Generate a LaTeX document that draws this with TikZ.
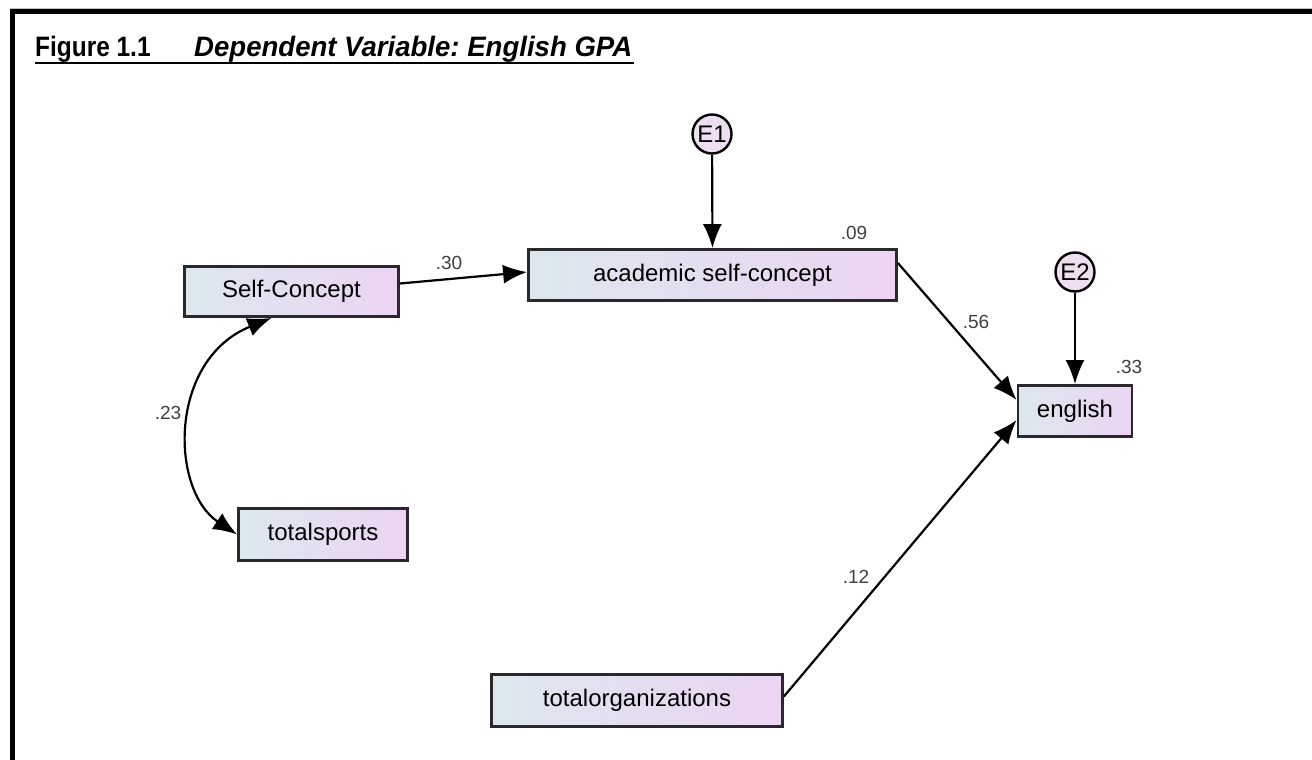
\documentclass[tikz,border=0pt]{standalone}
\usepackage{fontspec}
\setmainfont{Liberation Sans}
\usetikzlibrary{arrows.meta,calc,shadings}
\definecolor{boxL}{RGB}{220,232,238}
\definecolor{boxR}{RGB}{236,212,242}
\definecolor{errfill}{RGB}{238,222,242}
\definecolor{edge}{RGB}{40,40,45}
\frenchspacing
\begin{document}
\begin{tikzpicture}[x=1pt,y=-1pt,
  varbox/.style={draw=edge, line width=2.8pt, left color=boxL, right color=boxR,
    inner sep=0pt, font=\fontsize{24}{28}\selectfont},
  errc/.style={circle, draw=black, line width=2.4pt, fill=errfill,
    minimum size=39pt, inner sep=0pt, font=\fontsize{24}{24}\selectfont},
  conn/.style={line width=2.2pt, -{Latex[length=24pt,width=19pt]}},
  dconn/.style={line width=2.2pt, {Latex[length=24pt,width=19pt]}-{Latex[length=24pt,width=19pt]}},
  coef/.style={font=\fontsize{19}{22}\selectfont, text=black!75},
  ttl/.style={anchor=base west, inner sep=0pt}
]
\useasboundingbox (0,0) rectangle (1312,760);
\fill[white] (0,0) rectangle (1312,760);
% frame
\draw[gray!50, line width=1pt] (10,8.5) -- (1312,8.5);
\draw[line width=5pt] (12.5,760) -- (12.5,11.5) -- (1312,11.5);
% title
\node[ttl] (fig) at (35,57) {\fontsize{26}{28}\selectfont\bfseries\scalebox{0.94}[1.08]{Figure 1.1}};
\node[ttl] (dv) at (194,57) {\fontsize{26}{28}\selectfont\bfseries\itshape\scalebox{1.06}[1.08]{Dependent Variable: English GPA}};
\draw[line width=2.8pt] ($(fig.base west)+(0,6)$) -- ($(dv.base east)+(2,6)$);
% variables
\node[varbox, minimum width=214pt, minimum height=50pt] (sc) at (291.5,291.5) {Self-Concept};
\node[varbox, minimum width=368pt, minimum height=51pt] (acad) at (712.5,275) {academic self-concept};
\node[varbox, minimum width=114pt, minimum height=51pt] (eng) at (1075,411) {english};
\node[varbox, minimum width=169pt, minimum height=52pt] (ts) at (323,534.5) {totalsports};
\node[varbox, minimum width=291pt, minimum height=52pt] (org) at (637,700.5) {totalorganizations};
\node[errc] (e1) at (712,134) {E1};
\node[errc] (e2) at (1075,272) {E2};
% paths
\draw[conn] (e1) -- (acad.north);
\draw[conn] (e2) -- (eng.north);
\draw[conn] ($(sc.east)+(0,-8)$) -- ($(acad.west)+(0,-3)$);
\draw[conn] ($(acad.east)+(0,-12)$) -- ($(eng.west)+(0,-11)$);
\draw[conn] ($(org.east)+(0,-4)$) -- ($(eng.west)+(0,9)$);
\draw[dconn] (ts.west) .. controls (170,490) and (168,360) .. ($(sc.south)+(-20,0)$);
% coefficients
\node[coef] (c30) at (449,263) {.30};
\node[coef] (c09) at (854,233) {.09};
\node[coef] (c56) at (976,322) {.56};
\node[coef] (c33) at (1129,367) {.33};
\node[coef] (c23) at (168,413) {.23};
\node[coef] (c12) at (856,577) {.12};
\end{tikzpicture}
\end{document}
